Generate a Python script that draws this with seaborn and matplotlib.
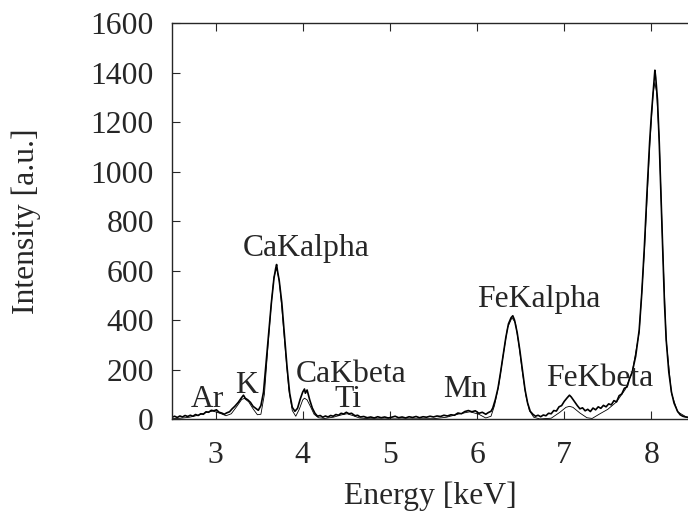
import numpy as np
import pandas as pd
import matplotlib
matplotlib.use("Agg")
import matplotlib.pyplot as plt
import seaborn as sns

energy_meas = [2.50, 2.53, 2.56, 2.59, 2.62, 2.65, 2.68, 2.71, 2.74, 2.77, 2.80, 2.83, 2.86, 2.89,
               2.92, 2.95, 2.98, 3.01, 3.04, 3.07, 3.10, 3.13, 3.16, 3.19, 3.22, 3.26, 3.30, 3.32,
               3.34, 3.37, 3.40, 3.43, 3.46, 3.49, 3.52, 3.55, 3.58, 3.61, 3.64, 3.67, 3.69, 3.70,
               3.71, 3.73, 3.76, 3.79, 3.82, 3.85, 3.88, 3.91, 3.94, 3.97, 4.00, 4.02, 4.03, 4.05,
               4.08, 4.11, 4.14, 4.17, 4.20, 4.23, 4.26, 4.29, 4.32, 4.35, 4.38, 4.41, 4.44, 4.47,
               4.50, 4.53, 4.56, 4.60, 4.63, 4.66, 4.70, 4.74, 4.78, 4.82, 4.86, 4.90, 4.94, 4.98,
               5.02, 5.06, 5.10, 5.14, 5.18, 5.22, 5.26, 5.30, 5.34, 5.38, 5.42, 5.46, 5.50, 5.54,
               5.58, 5.62, 5.66, 5.70, 5.74, 5.78, 5.82, 5.86, 5.90, 5.94, 5.98, 6.02, 6.06, 6.10,
               6.13, 6.16, 6.18, 6.21, 6.24, 6.27, 6.30, 6.33, 6.36, 6.39, 6.41, 6.43, 6.46, 6.49,
               6.52, 6.55, 6.58, 6.61, 6.64, 6.67, 6.70, 6.73, 6.76, 6.79, 6.82, 6.85, 6.88, 6.91,
               6.94, 6.97, 7.00, 7.03, 7.06, 7.08, 7.11, 7.15, 7.18, 7.21, 7.24, 7.27, 7.30, 7.33,
               7.36, 7.39, 7.42, 7.45, 7.48, 7.51, 7.54, 7.57, 7.60, 7.63, 7.66, 7.69, 7.72, 7.75,
               7.78, 7.82, 7.86, 7.89, 7.92, 7.95, 7.98, 8.00, 8.02, 8.04, 8.05, 8.07, 8.09, 8.11,
               8.13, 8.15, 8.17, 8.20, 8.23, 8.26, 8.30, 8.33, 8.36, 8.39, 8.42]
counts_meas = [8, 12, 7, 13, 9, 15, 11, 16, 12, 19, 15, 22, 20, 30,
               28, 36, 34, 38, 28, 25, 20, 26, 30, 42, 52, 68, 88, 97,
               85, 78, 68, 52, 44, 36, 55, 110, 230, 350, 470, 570, 610, 625,
               600, 560, 470, 340, 210, 105, 48, 32, 44, 80, 110, 122, 105, 118,
               78, 45, 24, 12, 15, 8, 13, 9, 15, 12, 19, 16, 24, 21,
               28, 22, 24, 14, 16, 9, 11, 6, 9, 5, 10, 6, 9, 5,
               8, 12, 6, 9, 5, 10, 7, 11, 6, 10, 8, 12, 9, 13,
               11, 16, 13, 18, 16, 25, 22, 31, 35, 30, 34, 24, 28, 20,
               27, 32, 45, 80, 125, 190, 260, 330, 385, 410, 418, 400, 350, 280,
               200, 120, 65, 32, 20, 12, 16, 10, 17, 14, 24, 22, 35, 33,
               50, 55, 72, 85, 97, 90, 75, 55, 42, 46, 34, 40, 31, 45,
               38, 50, 44, 56, 50, 62, 58, 75, 70, 95, 102, 125, 130, 165,
               190, 255, 360, 510, 700, 920, 1120, 1230, 1320, 1410, 1380, 1290, 1120, 900,
               680, 470, 320, 190, 110, 65, 32, 18, 12, 9, 8]

# fitted curve
energy_fit = [2.50, 2.60, 2.70, 2.80, 2.90, 2.97, 3.05, 3.12, 3.18, 3.24, 3.30, 3.33, 3.38, 3.43,
              3.48, 3.52, 3.56, 3.60, 3.64, 3.67, 3.70, 3.73, 3.76, 3.80, 3.84, 3.88, 3.92, 3.96,
              4.00, 4.02, 4.05, 4.09, 4.13, 4.18, 4.25, 4.35, 4.45, 4.51, 4.58, 4.65, 4.75, 5.00,
              5.50, 5.65, 5.80, 5.92, 6.02, 6.10, 6.16, 6.20, 6.25, 6.30, 6.35, 6.40, 6.44, 6.48,
              6.52, 6.56, 6.60, 6.65, 6.72, 6.85, 6.95, 7.02, 7.06, 7.10, 7.18, 7.26, 7.32, 7.40,
              7.50, 7.60, 7.70, 7.78, 7.86, 7.92, 7.98, 8.02, 8.04, 8.06, 8.09, 8.13, 8.17, 8.23,
              8.30, 8.42]
counts_fit = [2, 4, 8, 16, 28, 33, 24, 14, 22, 50, 80, 84, 70, 42,
              18, 20, 100, 290, 470, 575, 610, 560, 450, 280, 120, 35, 12, 40,
              78, 85, 78, 50, 20, 6, 3, 8, 18, 22, 14, 5, 2, 1,
              2, 8, 22, 30, 20, 5, 12, 55, 140, 260, 370, 410, 390, 300,
              190, 95, 35, 8, 1, 4, 28, 48, 52, 48, 25, 6, 3, 20,
              40, 70, 120, 190, 350, 680, 1100, 1320, 1360, 1320, 1130, 690, 320, 105,
              30, 5]

# peak labels: text, energy, intensity (left edge / baseline)
peak_names = ["Ar", "K", "CaKalpha", "CaKbeta", "Ti", "Mn", "FeKalpha", "FeKbeta"]
peak_x = [2.72, 3.225, 3.317, 3.92, 4.36, 5.605, 6.00, 6.79]
peak_y = [48, 105, 658, 151, 50, 90, 454, 133]

sns.set_style("ticks")
plt.rcParams['font.family'] = ['Liberation Serif', 'DejaVu Serif']

fig = plt.figure(figsize=(6.88, 5.15), dpi=100)
ax = fig.add_axes([0.25, 0.186, 0.75, 0.769])

df_meas = pd.DataFrame({"energy": energy_meas, "counts": counts_meas})
df_fit = pd.DataFrame({"energy": energy_fit, "counts": counts_fit})

sns.lineplot(data=df_meas, x="energy", y="counts", color="black", linewidth=1.2, ax=ax)
sns.lineplot(data=df_fit, x="energy", y="counts", color="black", linewidth=0.6, ax=ax)

fs = 22.8
for name, px, py in zip(peak_names, peak_x, peak_y):
    ax.text(px, py, name, fontsize=fs, ha="left", va="baseline")

ax.set_xlim(2.5, 8.42)
ax.set_ylim(0, 1600)
ax.set_xticks([3, 4, 5, 6, 7, 8])
ax.set_yticks(np.arange(0, 1601, 200))
ax.tick_params(direction="in", length=6, width=0.8, labelsize=fs, top=True)
ax.tick_params(axis="x", pad=16)
ax.tick_params(axis="y", pad=13)
ax.set_xlabel("Energy [keV]", fontsize=fs, labelpad=8)
ax.set_ylabel("Intensity [a.u.]", fontsize=fs, labelpad=36)
for s in ["left", "bottom", "top"]:
    ax.spines[s].set_linewidth(1.0)
ax.spines["right"].set_visible(False)

fig.savefig("out.png", dpi=100)
